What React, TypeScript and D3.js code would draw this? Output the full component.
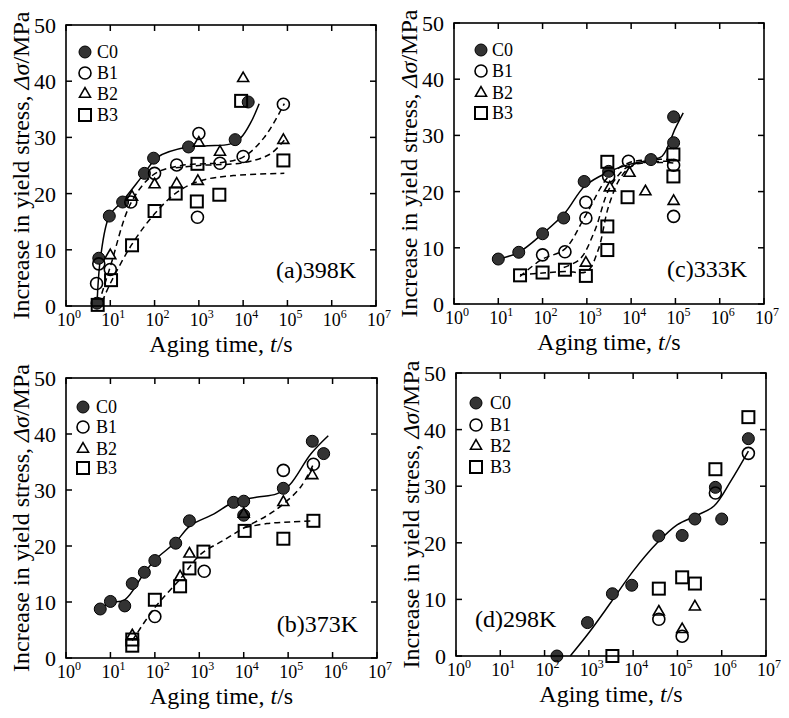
import React from "react";
import * as d3 from "d3";

type P = [number, number];

// ---------- Panel (a) 398K ----------
const a_C0: P[] = [[5, 0.5], [5.5, 8.5], [9.5, 16], [19, 18.5], [59, 23.6], [95, 26.3], [585, 28.3], [6600, 29.6], [13000, 36.3]];
const a_B1: P[] = [[4.9, 4], [5.5, 7.5], [10, 6.5], [29, 18.5], [100, 23.6], [316, 25.1], [1000, 30.7], [930, 15.8], [3000, 25.4], [10000, 26.6], [81000, 35.9]];
const a_B2: P[] = [[10, 9], [31, 19.4], [100, 21.6], [316, 21.7], [950, 22.2], [1000, 29], [3000, 27.4], [10000, 40.5], [81000, 29.5]];
const a_B3: P[] = [[5.2, 0.2], [10.4, 4.6], [31, 10.8], [100, 16.9], [300, 20], [930, 25.3], [900, 18.6], [2900, 19.8], [9000, 36.5], [81000, 25.9]];
const a_fitC0: P[] = [[5, 0], [6, 8.5], [9.5, 16], [19, 18.7], [59, 23.6], [117, 26.5], [550, 28.3], [1600, 28.5], [5000, 28.8], [9000, 30], [15000, 32.7], [23000, 36]];
const a_fitB1: P[] = [[5.5, 0.5], [10, 7], [30, 18.5], [100, 23.5], [400, 25], [3000, 25.5], [10000, 26.5], [30000, 30], [85000, 36]];
const a_fitB2: P[] = [[300, 24.6], [1000, 25], [10000, 25.5], [40000, 27], [85000, 29.5]];
const a_fitB3: P[] = [[6.6, 0.8], [10, 4], [31, 11], [100, 16.4], [330, 20.3], [1100, 22.3], [6000, 23.2], [85000, 23.6]];

// ---------- Panel (c) 333K ----------
const c_C0: P[] = [[10, 8], [29, 9.2], [100, 12.5], [300, 15.3], [870, 21.8], [3100, 23.6], [28000, 25.7], [91000, 33.3], [91000, 28.7]];
const c_B1: P[] = [[100, 8.75], [320, 9.3], [950, 18.1], [950, 15.3], [3100, 22.7], [8700, 25.4], [91000, 15.6], [91000, 24.7]];
const c_B2: P[] = [[950, 7.3], [3300, 20.7], [9200, 23.3], [21000, 20], [91000, 18.3]];
const c_B3: P[] = [[31, 5.1], [100, 5.6], [320, 6.1], [950, 5], [2900, 25.3], [2900, 13.8], [2900, 9.6], [8300, 19], [90000, 26.6], [90000, 22.7]];
const c_fitC0: P[] = [[10, 8], [29, 9.2], [100, 12.5], [320, 16.2], [900, 21], [3100, 23.5], [8700, 24.8], [29000, 25.7], [50000, 26.3], [100000, 31.3], [150000, 34]];
const c_fitB1: P[] = [[31, 4.9], [95, 7.9], [320, 9.8], [900, 15.5], [3100, 22.7], [8700, 25.1], [29000, 25.7], [90000, 25.7]];
const c_fitB2: P[] = [[300, 6.5], [700, 8], [1500, 13], [3300, 20.7], [8700, 24.5], [30000, 25.3], [90000, 25.4]];
const c_fitB3: P[] = [[31, 5.2], [100, 5.5], [320, 5.8], [1000, 5.8], [1800, 9.6], [3100, 17.4], [6000, 22.7], [12000, 24.8], [90000, 25.1]];

// ---------- Panel (b) 373K ----------
const b_C0: P[] = [[5.9, 8.75], [10, 10.1], [21, 9.3], [31, 13.3], [58, 15.3], [100, 17.4], [295, 20.5], [600, 24.5], [5900, 27.8], [10000, 28], [10000, 25.5], [78000, 30.3], [350000, 38.7], [630000, 36.5]];
const b_B1: P[] = [[100, 7.4], [1290, 15.5], [78000, 33.5], [370000, 34.6]];
const b_B2: P[] = [[31, 4], [370, 14.5], [600, 18.6], [10000, 25.7], [78000, 27.8], [350000, 32.6]];
const b_B3: P[] = [[31, 3.3], [31, 2.2], [100, 10.4], [370, 12.8], [600, 16], [1240, 19], [10500, 22.7], [78000, 21.3], [370000, 24.5]];
const b_fitC0: P[] = [[5.9, 8.75], [10, 9.9], [21, 10.4], [56, 15], [100, 17.5], [295, 20.7], [620, 23.6], [2100, 25.7], [5900, 27.8], [19000, 28.7], [55000, 29.3], [110000, 31], [320000, 36.4], [800000, 39.7]];
const b_fitB: P[] = [[31, 3.1], [100, 9], [370, 14.1], [1100, 18.6], [3500, 21], [10500, 23.3], [33000, 25.4], [78000, 27.5], [190000, 30.5], [370000, 34.6]];
const b_fitB3: P[] = [[10500, 23.3], [33000, 24], [110000, 24.3], [370000, 24.5]];

// ---------- Panel (d) 298K ----------
const d_C0: P[] = [[190, 0], [930, 5.9], [3400, 11], [9300, 12.5], [38000, 21.2], [128000, 21.3], [248000, 24.2], [720000, 29.8], [1000000, 24.2], [4000000, 38.4]];
const d_B1: P[] = [[38000, 6.5], [128000, 3.5], [720000, 28.8], [4000000, 35.8]];
const d_B2: P[] = [[38000, 7.8], [128000, 4.7], [248000, 8.7]];
const d_B3: P[] = [[3400, 0], [38000, 11.9], [128000, 13.9], [248000, 12.8], [720000, 33], [4000000, 42.2]];
const d_fitC0: P[] = [[380, 0], [1000, 4.1], [3100, 9.4], [10000, 15], [35000, 20], [100000, 23.2], [250000, 24.7], [670000, 26.5], [1600000, 30.9], [4000000, 36.2]];

const xTickExps = [0, 1, 2, 3, 4, 5, 6, 7];
const yTicks = [0, 10, 20, 30, 40, 50];
const seriesNames = ["C0", "B1", "B2", "B3"];

const FONT = "'Liberation Serif', 'Times New Roman', serif";

type Panel = {
  L: number; R: number; T: number; B: number;
  label: string; labelX: number; labelY: number; labelAnchor: string;
  legX: number; legTX: number; legY: number[];
  series: P[][];
  solid: P[][];
  dashed: P[][];
};

const panels: Panel[] = [
  {
    L: 66, R: 376, T: 25, B: 306, label: "(a)398K", labelX: 356, labelY: 278, labelAnchor: "end",
    legX: 85, legTX: 97, legY: [52, 73, 94, 115],
    series: [a_C0, a_B1, a_B2, a_B3], solid: [a_fitC0], dashed: [a_fitB1, a_fitB2, a_fitB3],
  },
  {
    L: 454, R: 764, T: 23, B: 304, label: "(c)333K", labelX: 747, labelY: 277, labelAnchor: "end",
    legX: 481, legTX: 492, legY: [50, 71, 93, 113],
    series: [c_C0, c_B1, c_B2, c_B3], solid: [c_fitC0], dashed: [c_fitB1, c_fitB2, c_fitB3],
  },
  {
    L: 66, R: 377, T: 378, B: 658, label: "(b)373K", labelX: 358, labelY: 632, labelAnchor: "end",
    legX: 83, legTX: 96, legY: [407, 427, 449, 468],
    series: [b_C0, b_B1, b_B2, b_B3], solid: [b_fitC0], dashed: [b_fitB, b_fitB3],
  },
  {
    L: 456, R: 766, T: 373, B: 656, label: "(d)298K", labelX: 475, labelY: 627, labelAnchor: "start",
    legX: 476, legTX: 490, legY: [403, 425, 446, 467],
    series: [d_C0, d_B1, d_B2, d_B3], solid: [d_fitC0], dashed: [],
  },
];

function Marker({ kind, x, y }: { kind: number; x: number; y: number }) {
  if (kind === 0) return <circle cx={x} cy={y} r={6} fill="#333" stroke="#000" strokeWidth={1} />;
  if (kind === 1) return <circle cx={x} cy={y} r={6} fill="none" stroke="#000" strokeWidth={1.6} />;
  if (kind === 2) {
    const s = 11;
    const h = (s * Math.sqrt(3)) / 2;
    const d = `M${x},${y - (2 * h) / 3}L${x + s / 2},${y + h / 3}L${x - s / 2},${y + h / 3}Z`;
    return <path d={d} fill="none" stroke="#000" strokeWidth={1.6} />;
  }
  return <rect x={x - 6} y={y - 6} width={12} height={12} fill="none" stroke="#000" strokeWidth={2} />;
}

function PanelView({ p }: { p: Panel }) {
  const x = d3.scaleLog().domain([1, 1e7]).range([p.L, p.R]);
  const y = d3.scaleLinear().domain([0, 50]).range([p.B, p.T]);
  const line = d3.line<P>().x((d) => x(d[0])).y((d) => y(d[1])).curve(d3.curveCatmullRom.alpha(0.5));
  const tl = 6;
  return (
    <g fontFamily={FONT} fill="#000">
      {p.solid.map((s, i) => (
        <path key={"s" + i} d={line(s) || ""} fill="none" stroke="#000" strokeWidth={1.5} />
      ))}
      {p.dashed.map((s, i) => (
        <path key={"d" + i} d={line(s) || ""} fill="none" stroke="#000" strokeWidth={1.5} strokeDasharray="6,4" />
      ))}
      {p.series.map((s, k) =>
        s.map((d, i) => <Marker key={k + "-" + i} kind={k} x={x(d[0])} y={y(d[1])} />)
      )}
      <rect x={p.L} y={p.T} width={p.R - p.L} height={p.B - p.T} fill="none" stroke="#000" strokeWidth={1.6} />
      {xTickExps.map((e) => {
        const tx = x(Math.pow(10, e));
        return (
          <g key={"xt" + e}>
            <line x1={tx} x2={tx} y1={p.B} y2={p.B - tl} stroke="#000" strokeWidth={1.5} />
            <line x1={tx} x2={tx} y1={p.T} y2={p.T + tl} stroke="#000" strokeWidth={1.5} />
            <text x={tx - 9} y={p.B + 20} fontSize={18}>
              10<tspan dy={-8} fontSize={12}>{e}</tspan>
            </text>
          </g>
        );
      })}
      {yTicks.map((v) => {
        const ty = y(v);
        return (
          <g key={"yt" + v}>
            <line x1={p.L} x2={p.L + tl} y1={ty} y2={ty} stroke="#000" strokeWidth={1.5} />
            <line x1={p.R} x2={p.R - tl} y1={ty} y2={ty} stroke="#000" strokeWidth={1.5} />
            <text x={p.L - 10} y={ty} dy="0.36em" fontSize={22} textAnchor="end">{v}</text>
          </g>
        );
      })}
      <text x={(p.L + p.R) / 2} y={p.B + 46} fontSize={24} textAnchor="middle">
        Aging time, <tspan fontStyle="italic">t</tspan>/s
      </text>
      <text
        transform={`translate(${p.L - 37},${(p.T + p.B) / 2}) rotate(-90)`}
        fontSize={24}
        textAnchor="middle"
      >
        Increase in yield stress, <tspan fontStyle="italic">Δσ</tspan>/MPa
      </text>
      <text x={p.labelX} y={p.labelY} fontSize={24} textAnchor={p.labelAnchor as any}>{p.label}</text>
      {seriesNames.map((n, k) => (
        <g key={"lg" + k}>
          <Marker kind={k} x={p.legX} y={p.legY[k]} />
          <text x={p.legTX} y={p.legY[k]} dy="0.35em" fontSize={18}>{n}</text>
        </g>
      ))}
    </g>
  );
}

export default function App() {
  return (
    <svg
      width={789}
      height={718}
      style={{ position: "absolute", left: 0, top: 0, background: "#fff" }}
    >
      <rect width={789} height={718} fill="#fff" />
      {panels.map((p, i) => (
        <PanelView key={i} p={p} />
      ))}
    </svg>
  );
}
